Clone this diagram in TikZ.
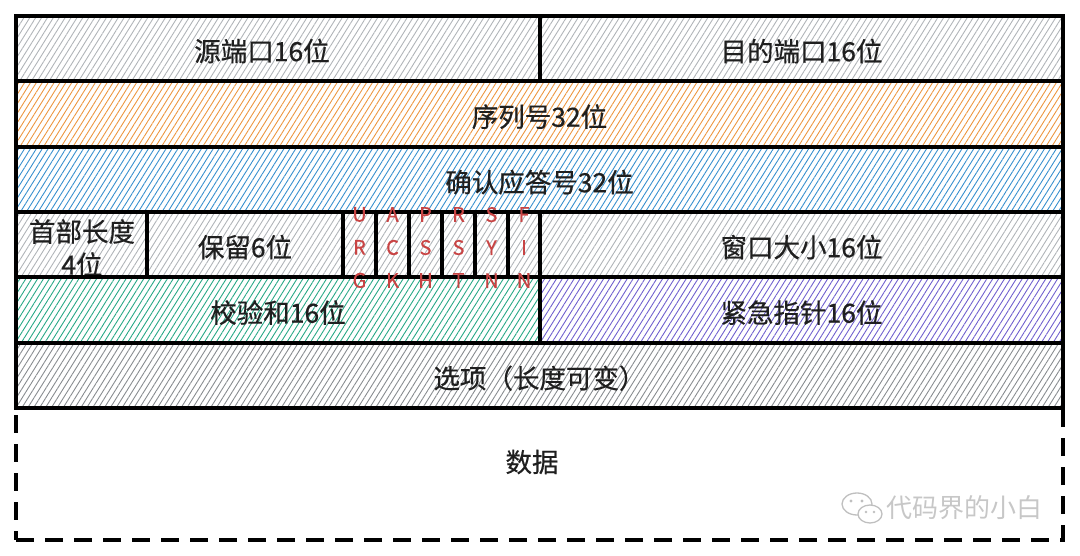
\documentclass[tikz,border=0pt]{standalone}
\usepackage{fontspec}
\setmainfont{Noto Sans CJK SC}[BoldFont={Noto Sans CJK SC},BoldFeatures={FakeBold=0.5}]
\usetikzlibrary{patterns.meta}
\definecolor{hlight}{HTML}{B0B4B8}
\definecolor{horange}{HTML}{EC9640}
\definecolor{hblue}{HTML}{3890CE}
\definecolor{hgreen}{HTML}{28A886}
\definecolor{hpurple}{HTML}{7060CE}
\definecolor{hdark}{HTML}{888C90}
\definecolor{flagred}{HTML}{C84444}
\begin{document}
\begin{tikzpicture}[x=1pt,y=-1pt,
  box/.style={draw=black,line width=3.2pt,inner sep=0pt,outer sep=0pt,anchor=north west,
    font=\fontsize{26.5}{33}\selectfont\bfseries,text=black!88,text height=28.5pt,text depth=3pt},
  hatch/.style={pattern={Lines[angle=58,distance=5pt,line width=0.9pt]},pattern color=#1},
  flagtxt/.style={font=\fontsize{20}{33}\selectfont\bfseries,text=flagred,align=center,inner sep=0pt},
  lbl/.style={font=\fontsize{26.5}{33}\selectfont\bfseries,text=black!88,inner sep=0pt,align=center},
  wmark/.style={font=\fontsize{26}{26}\selectfont,text=black!22,inner sep=0pt},
]
\useasboundingbox (0,0) rectangle (1080,556);
% data area (dashed)
\node[box,dashed,dash pattern=on 18pt off 11pt,minimum width=1047pt,minimum height=132pt] (data) at (16,408) {};
\node[lbl] (datalbl) at (532,462) {数据};
% row 1
\node[box,hatch=hlight,minimum width=524pt,minimum height=65pt] (src) at (16,16) {};
\node[lbl] (srclbl) at (262,51) {源端口16位};
\node[box,hatch=hlight,minimum width=523pt,minimum height=65pt] (dst) at (540,16) {目的端口16位};
% row 2, 3
\node[box,hatch=horange,minimum width=1047pt,minimum height=66pt] (seq) at (16,81) {序列号32位};
\node[box,hatch=hblue,minimum width=1047pt,minimum height=65pt] (ack) at (16,147) {确认应答号32位};
% row 4
\node[box,hatch=hlight,minimum width=131pt,minimum height=65pt] (hlen) at (16,212) {};
\node[lbl] (hlenlbl) at (82,248) {首部长度\\4位};
\node[box,hatch=hlight,minimum width=196pt,minimum height=65pt] (rsv) at (147,212) {保留6位};
\node[box,hatch=hlight,minimum width=33pt,minimum height=65pt] (urgf) at (343,212) {};
\node[box,hatch=hlight,minimum width=33pt,minimum height=65pt] (ackf) at (376,212) {};
\node[box,hatch=hlight,minimum width=33pt,minimum height=65pt] (pshf) at (409,212) {};
\node[box,hatch=hlight,minimum width=33pt,minimum height=65pt] (rstf) at (442,212) {};
\node[box,hatch=hlight,minimum width=33pt,minimum height=65pt] (synf) at (475,212) {};
\node[box,hatch=hlight,minimum width=32pt,minimum height=65pt] (finf) at (508,212) {};
\node[box,hatch=hlight,minimum width=523pt,minimum height=65pt] (win) at (540,212) {窗口大小16位};
% row 5
\node[box,hatch=hgreen,minimum width=524pt,minimum height=66pt] (chk) at (16,277) {校验和16位};
\node[box,hatch=hpurple,minimum width=523pt,minimum height=66pt] (urg) at (540,277) {紧急指针16位};
% row 6
\node[box,hatch=hdark,minimum width=1047pt,minimum height=65pt] (opt) at (16,343) {选项（长度可变）};
% flag letters
\node[flagtxt,yshift=-3pt] (t1) at (urgf.center) {U\\R\\G};
\node[flagtxt,yshift=-3pt] (t2) at (ackf.center) {A\\C\\K};
\node[flagtxt,yshift=-3pt] (t3) at (pshf.center) {P\\S\\H};
\node[flagtxt,yshift=-3pt] (t4) at (rstf.center) {R\\S\\T};
\node[flagtxt,yshift=-3pt] (t5) at (synf.center) {S\\Y\\N};
\node[flagtxt,yshift=-3pt] (t6) at (finf.center) {F\\I\\N};
% watermark
\draw[black!25,line width=1.3pt] (857,504) ellipse [x radius=15pt,y radius=11pt];
\draw[black!25,line width=1.3pt,fill=white] (870,514) ellipse [x radius=12pt,y radius=9pt];
\fill[black!25] (851,501) circle (1.6pt) (862,501) circle (1.6pt) (866,512) circle (1.3pt) (874,512) circle (1.3pt);
\node[wmark,anchor=west] (wm) at (886,508) {代码界的小白};
\end{tikzpicture}
\end{document}
